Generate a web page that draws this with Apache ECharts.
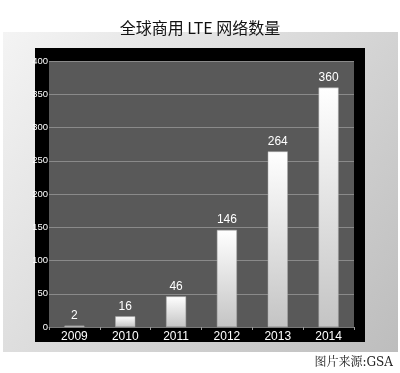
<!DOCTYPE html>
<html><head><meta charset="utf-8">
<script src="https://cdn.jsdelivr.net/npm/echarts@6/dist/echarts.min.js"></script>
<style>html,body{margin:0;padding:0;background:#fff}#c{width:400px;height:373px}</style>
</head><body><div id="c"></div>
<script>
const categories = ['2009','2010','2011','2012','2013','2014'];
const values = [2, 16, 46, 146, 264, 360];
const yTicks = [0, 50, 100, 150, 200, 250, 300, 350, 400];
const title = '全球商用 LTE 网络数量';
const source = '图片来源:GSA';

const chart = echarts.init(document.getElementById('c'));
chart.setOption({
  animation: false,
  title: {text: title, left: 'center', top: 15, textStyle: {fontFamily: 'Noto Sans CJK SC', fontSize: 16, fontWeight: 'normal', color: '#111'}},
  graphic: [
    {type: 'rect', z: -10, shape: {x: 3, y: 32, width: 395, height: 320},
     style: {fill: new echarts.graphic.LinearGradient(0, 0, 1, 1, [{offset: 0, color: '#f4f4f4'}, {offset: 1, color: '#bdbdbd'}])}},
    {type: 'rect', z: -9, shape: {x: 35, y: 48, width: 330, height: 294}, style: {fill: '#000'}},
    {type: 'text', right: 7, top: 357, style: {text: source, font: '12px "DejaVu Serif", "Noto Serif CJK SC", serif', fill: '#222'}}
  ],
  grid: {left: 49, right: 46, top: 61, bottom: 46, show: true, backgroundColor: '#595959', borderWidth: 0},
  xAxis: {type: 'category', data: categories,
    axisLine: {show: true, lineStyle: {color: '#777', width: 1}},
    axisTick: {show: true, length: 3, lineStyle: {color: '#999'}},
    axisLabel: {color: '#fff', fontSize: 12, fontFamily: 'Liberation Sans', margin: 4}},
  yAxis: {type: 'value', min: 0, max: 400, interval: 50,
    axisLine: {show: false}, axisTick: {show: false},
    splitLine: {lineStyle: {color: '#8a8a8a', width: 1}},
    axisLabel: {color: '#fff', fontSize: 9.5, fontFamily: 'Liberation Sans', margin: 1,
      formatter: v => yTicks.includes(v) ? String(v) : ''}},
  series: [{type: 'bar', data: values, barWidth: 20,
    itemStyle: {color: new echarts.graphic.LinearGradient(0, 0, 0, 1, [{offset: 0, color: '#ffffff'}, {offset: 1, color: '#c4c4c4'}]),
      borderColor: '#aaa', borderWidth: 0.5},
    label: {show: true, position: 'top', color: '#fff', fontSize: 12, fontFamily: 'Liberation Sans', distance: 4}}]
});
</script></body></html>
